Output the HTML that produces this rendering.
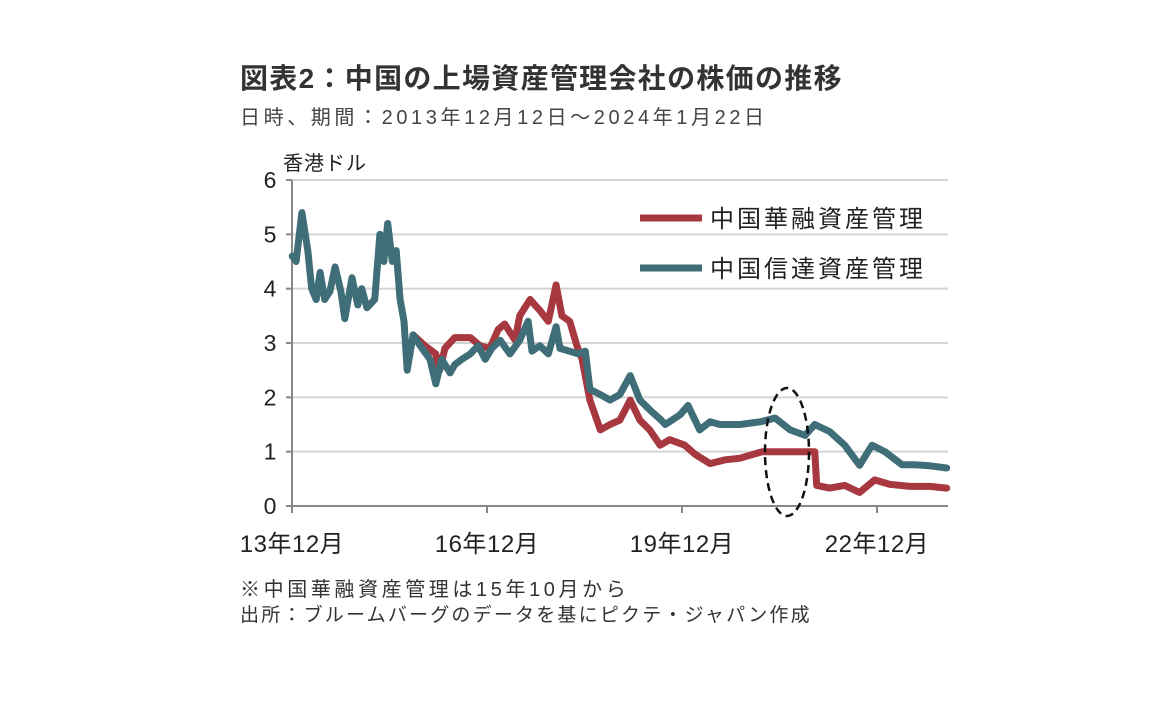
<!DOCTYPE html>
<html><head><meta charset="utf-8"><style>
body{margin:0;background:#fff;width:1152px;height:720px;overflow:hidden;font-family:"Liberation Sans","Noto Sans CJK JP",sans-serif}
svg{display:block}
</style></head><body>
<svg id="chart" width="1152" height="720" xmlns="http://www.w3.org/2000/svg">
<text x="240" y="88" font-size="28" font-weight="bold" letter-spacing="1.3" fill="#333" font-family="Liberation Sans, Noto Sans CJK JP, sans-serif">図表2：中国の上場資産管理会社の株価の推移</text>
<text x="240" y="124" font-size="20" letter-spacing="3.6" fill="#444" font-family="Liberation Sans, Noto Sans CJK JP, sans-serif">日時、期間：2013年12月12日～2024年1月22日</text>
<text x="283" y="170" font-size="20" letter-spacing="1" fill="#222" font-family="Liberation Sans, Noto Sans CJK JP, sans-serif">香港ドル</text>
<g id="grid"></g><g id="axes"></g><g id="lines"></g>
<ellipse cx="787" cy="452" rx="22" ry="64" fill="none" stroke="#111" stroke-width="2.5" stroke-dasharray="8,5"/>
<line x1="640" y1="218" x2="702" y2="218" stroke="#a8383f" stroke-width="7"/>
<text x="710" y="227" font-size="24" letter-spacing="3" fill="#222" font-family="Liberation Sans, Noto Sans CJK JP, sans-serif">中国華融資産管理</text>
<line x1="640" y1="268" x2="702" y2="268" stroke="#3f6e78" stroke-width="7"/>
<text x="710" y="277" font-size="24" letter-spacing="3" fill="#222" font-family="Liberation Sans, Noto Sans CJK JP, sans-serif">中国信達資産管理</text>
<text x="240" y="596" font-size="20" letter-spacing="3.6" fill="#333" font-family="Liberation Sans, Noto Sans CJK JP, sans-serif">※中国華融資産管理は15年10月から</text>
<text x="240" y="621" font-size="19" letter-spacing="2.2" fill="#333" font-family="Liberation Sans, Noto Sans CJK JP, sans-serif">出所：ブルームバーグのデータを基にピクテ・ジャパン作成</text>
</svg>
<script>
const yTicks=[0,1,2,3,4,5,6];
const xTickDates=[2013.917,2016.917,2019.917,2022.917];
const xTickLabels=["13年12月","16年12月","19年12月","22年12月"];
const cindaDates=[2013.92,2013.98,2014.07,2014.16,2014.22,2014.29,2014.35,2014.42,2014.50,2014.58,2014.67,2014.73,2014.84,2014.93,2014.99,2015.07,2015.19,2015.27,2015.33,2015.39,2015.46,2015.52,2015.58,2015.64,2015.69,2015.78,2015.89,2016.04,2016.13,2016.22,2016.35,2016.42,2016.53,2016.66,2016.78,2016.89,2016.99,2017.12,2017.27,2017.42,2017.55,2017.61,2017.73,2017.86,2017.98,2018.04,2018.19,2018.32,2018.43,2018.50,2018.66,2018.81,2018.96,2019.12,2019.27,2019.42,2019.58,2019.66,2019.89,2020.01,2020.19,2020.35,2020.50,2020.81,2021.12,2021.35,2021.58,2021.81,2021.96,2022.19,2022.42,2022.65,2022.84,2023.04,2023.30,2023.50,2023.73,2023.99];
const cindaValues=[4.6,4.5,5.4,4.7,4.0,3.8,4.3,3.8,3.95,4.4,3.95,3.45,4.2,3.7,4.0,3.65,3.8,5.0,4.5,5.2,4.5,4.7,3.8,3.4,2.5,3.15,2.95,2.7,2.25,2.7,2.45,2.6,2.7,2.8,2.95,2.7,2.9,3.05,2.8,3.05,3.4,2.85,2.95,2.8,3.3,2.9,2.85,2.8,2.85,2.15,2.05,1.95,2.05,2.4,1.95,1.77,1.6,1.5,1.68,1.85,1.4,1.55,1.5,1.5,1.55,1.62,1.4,1.3,1.5,1.37,1.12,0.75,1.12,1.0,0.76,0.76,0.74,0.7];
const huarongDates=[2015.78,2015.96,2016.13,2016.19,2016.27,2016.42,2016.66,2016.81,2016.96,2017.09,2017.19,2017.35,2017.42,2017.58,2017.73,2017.86,2017.98,2018.07,2018.19,2018.30,2018.38,2018.50,2018.66,2018.81,2018.96,2019.12,2019.27,2019.42,2019.58,2019.73,2019.96,2020.12,2020.35,2020.58,2020.81,2021.15,2021.96,2021.99,2022.19,2022.42,2022.65,2022.88,2023.11,2023.42,2023.73,2023.99];
const huarongValues=[3.15,2.95,2.8,2.5,2.9,3.1,3.1,2.95,2.9,3.25,3.35,3.05,3.5,3.8,3.6,3.4,4.07,3.5,3.4,2.95,2.7,1.95,1.4,1.5,1.58,1.95,1.58,1.4,1.12,1.22,1.12,0.95,0.78,0.85,0.88,1.0,1.0,0.38,0.33,0.38,0.25,0.48,0.4,0.36,0.36,0.33];
const NS="http://www.w3.org/2000/svg";
const X0=292,X1=948,Y0=506,PXU=54.33;
function xs(d){return X0+(d-2013.917)*65;}
function ys(v){return Y0-v*PXU;}
function mk(tag,attrs,parent){const e=document.createElementNS(NS,tag);for(const k in attrs)e.setAttribute(k,attrs[k]);document.getElementById(parent).appendChild(e);return e;}
yTicks.forEach(t=>{
 if(t>0){const g=mk('line',{x1:X0,x2:X1,y1:ys(t),y2:ys(t),stroke:'#d4d4d4','stroke-width':2},'grid');
 
 }
 const tk=mk('line',{x1:X0-6,x2:X0,y1:ys(t),y2:ys(t),stroke:'#888','stroke-width':2},'axes');
 
 
 const l=mk('text',{x:270,y:ys(t)+8,'font-size':23,fill:'#222','text-anchor':'middle','font-family':'Liberation Sans, sans-serif'},'axes');
 l.textContent=t;
 
 
});
const ya=mk('line',{x1:X0,x2:X0,y1:ys(6),y2:Y0,stroke:'#888','stroke-width':2},'axes');


const xa=mk('line',{x1:X0,x2:X1,y1:Y0,y2:Y0,stroke:'#888','stroke-width':2},'axes');


xTickDates.forEach((d,i)=>{
 const tk=mk('line',{x1:xs(d),x2:xs(d),y1:Y0,y2:Y0+7,stroke:'#888','stroke-width':2},'axes');
 
 
 const l=mk('text',{x:xs(d),y:552,'font-size':24,'letter-spacing':0.5,fill:'#222','text-anchor':'middle','font-family':'Liberation Sans, Noto Sans CJK JP, sans-serif'},'axes');
 l.textContent=xTickLabels[i];
 
 
});
function path(ds,vs,color,name){
 const d=ds.map((t,i)=>(i?'L':'M')+xs(t).toFixed(1)+','+ys(vs[i]).toFixed(1)).join('');
 const p=mk('path',{d:d,fill:'none',stroke:color,'stroke-width':7,'stroke-linejoin':'round','stroke-linecap':'round'},'lines');
 
 
}
path(huarongDates,huarongValues,'#a8383f','huarong-line');
path(cindaDates,cindaValues,'#3f6e78','cinda-line');
</script>
</body></html>
